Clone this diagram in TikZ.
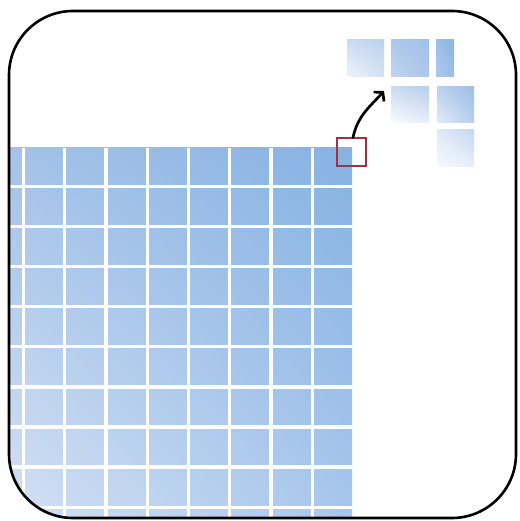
\documentclass[tikz,border=0pt]{standalone}
\usepackage{xcolor}
\usepackage{tikz}
\usetikzlibrary{arrows.meta,shadings}
\definecolor{tiledark}{RGB}{134,178,226}
\definecolor{tiletopleft}{RGB}{168,196,233}
\definecolor{tilelight}{RGB}{216,228,245}
\definecolor{tilebottomright}{RGB}{168,198,236}
\definecolor{markred}{RGB}{160,50,72}

\begin{document}
\begin{tikzpicture}[x=1pt,y=1pt,
    redbox/.style={draw=markred,line width=2pt,minimum width=29pt,minimum height=28pt,inner sep=0pt},
    gridline/.style={white,line width=3.3pt},
    jump/.style={-{Straight Barb[length=6pt,width=14pt]},line width=2.7pt,line cap=round,line join=round}]
    \useasboundingbox (0,0) rectangle (519,521);

    % Big block of tiles, cut by the frame
    \begin{scope}
        \clip[rounded corners=64pt] (9,3) rectangle (516,510);
        \shade[upper left=tiletopleft,upper right=tiledark,lower left=tilelight,lower right=tilebottomright]
            (-30,0) rectangle (352,373);
        \foreach \c in {0,...,7}
            \draw[gridline] ({312.35-41.3*\c},0) -- ++(0,373);
        \foreach \r in {0,...,8}
            \draw[gridline] (-30,{334.55-40.1*\r}) -- ++(382,0);
    \end{scope}

    % Frame
    \draw[line width=2.6pt,rounded corners=64pt] (9,3) rectangle (516,510);

    % Small tiles, top right
    \shade[upper left=tilelight!70!tiletopleft,upper right=tiletopleft!55!tilelight,lower left=tilelight!40!white,lower right=tilelight!90!tiletopleft]
        (347,444) rectangle (384,481);
    \shade[upper left=tiletopleft!90!tilelight,upper right=tiletopleft!80!tiledark,lower left=tilelight!50!tiletopleft,lower right=tiletopleft!90!tilelight]
        (391,444) rectangle (429,481);
    \shade[upper left=tiletopleft!70!tiledark,upper right=tiledark!90!tiletopleft,lower left=tiletopleft!85!tilelight,lower right=tiletopleft!70!tiledark]
        (436,444) rectangle (454,481);
    \shade[upper left=tilelight!75!tiletopleft,upper right=tiletopleft!70!tilelight,lower left=tilelight!15!white,lower right=tilelight!60!white]
        (391,398) rectangle (429,434);
    \shade[upper left=tiletopleft!60!tilelight,upper right=tiletopleft!70!tiledark,lower left=tilelight!70!white,lower right=tiletopleft!70!tilelight]
        (437,398) rectangle (474,434);
    \shade[upper left=tilelight!80!white,upper right=tilelight!60!tiletopleft,lower left=tilelight!20!white,lower right=tilelight!60!white]
        (437,354) rectangle (474,391);

    % Picked tile and the jump
    \node[redbox] (pick) at (351.5,368.5) {};
    \coordinate (land) at (384,430);
    \draw[jump] ([xshift=1.5pt]pick.north) to[out=78,in=228] (land);
\end{tikzpicture}
\end{document}
